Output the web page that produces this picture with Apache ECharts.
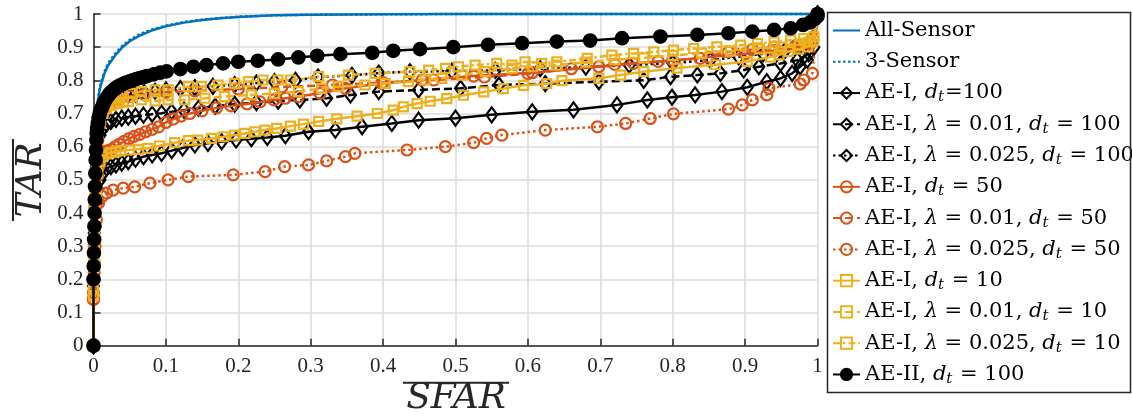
<!DOCTYPE html>
<html><head><meta charset="utf-8">
<script src="https://cdn.jsdelivr.net/npm/echarts@6/dist/echarts.min.js"></script>
<style>html,body{margin:0;padding:0;background:#fff}#c{width:1132px;height:417px}</style>
</head><body><div id="c"></div>
<script>
// ---------- data ----------
const tickLabels = ['0','0.1','0.2','0.3','0.4','0.5','0.6','0.7','0.8','0.9','1'];

const allSensorX = [0,0.001,0.002,0.004,0.006,0.008,0.01,0.015,0.02,0.03,0.04,0.05,0.065,0.08,0.1,0.125,0.15,0.175,0.2,0.25,0.3,0.4,0.5,1];
const allSensorY = [0,0.45,0.6,0.69,0.735,0.765,0.785,0.82,0.845,0.875,0.9,0.918,0.936,0.95,0.963,0.974,0.982,0.987,0.991,0.996,0.998,0.999,1,1];
const sensor3X = allSensorX;
const sensor3Y = [0,0.45,0.6,0.69,0.74,0.77,0.79,0.826,0.851,0.881,0.905,0.922,0.94,0.953,0.965,0.976,0.983,0.988,0.992,0.996,0.998,0.999,1,1];

const ae100X = [0,0,0.001,0.002,0.004,0.006,0.009,0.013,0.018,0.024,0.031,0.039,0.048,0.058,0.069,0.081,0.094,0.108,0.123,0.14,0.158,0.177,0.197,0.218,0.24,0.265,0.297,0.334,0.371,0.412,0.449,0.5,0.55,0.606,0.663,0.723,0.765,0.799,0.831,0.868,0.903,0.93,0.949,0.965,0.976,0.986,0.995,1];
const ae100Y = [0,0.18,0.28,0.36,0.43,0.47,0.5,0.52,0.535,0.54,0.545,0.55,0.555,0.562,0.57,0.575,0.58,0.588,0.596,0.605,0.61,0.615,0.62,0.624,0.628,0.633,0.645,0.65,0.66,0.67,0.68,0.686,0.696,0.705,0.711,0.726,0.741,0.749,0.756,0.766,0.779,0.796,0.806,0.821,0.841,0.861,0.9,1];

const ae100L1X = [0,0,0.001,0.002,0.004,0.006,0.009,0.013,0.018,0.024,0.031,0.039,0.048,0.058,0.069,0.081,0.094,0.108,0.125,0.145,0.168,0.195,0.225,0.255,0.285,0.322,0.355,0.394,0.449,0.507,0.56,0.624,0.698,0.76,0.797,0.834,0.866,0.898,0.919,0.949,0.972,0.988,1];
const ae100L1Y = [0,0.2,0.32,0.44,0.54,0.6,0.635,0.655,0.668,0.676,0.682,0.686,0.689,0.692,0.695,0.698,0.701,0.705,0.71,0.716,0.722,0.728,0.733,0.737,0.741,0.746,0.756,0.766,0.771,0.776,0.786,0.79,0.796,0.8,0.811,0.816,0.821,0.831,0.841,0.851,0.861,0.88,1];

const ae100L2X = [0,0,0.001,0.002,0.004,0.006,0.009,0.013,0.018,0.024,0.031,0.039,0.048,0.058,0.07,0.085,0.1,0.12,0.14,0.165,0.195,0.225,0.25,0.279,0.31,0.357,0.394,0.437,0.495,0.555,0.617,0.68,0.74,0.8,0.852,0.891,0.925,0.955,0.975,0.99,1];
const ae100L2Y = [0,0.2,0.34,0.48,0.6,0.66,0.7,0.72,0.732,0.74,0.746,0.751,0.755,0.759,0.763,0.767,0.771,0.775,0.778,0.782,0.787,0.792,0.796,0.8,0.81,0.815,0.822,0.826,0.828,0.83,0.835,0.84,0.846,0.852,0.861,0.871,0.88,0.89,0.9,0.92,1];

const ae50X = [0,0,0.001,0.002,0.003,0.005,0.007,0.01,0.013,0.016,0.02,0.025,0.03,0.036,0.042,0.049,0.056,0.064,0.072,0.081,0.09,0.1,0.11,0.121,0.133,0.15,0.17,0.19,0.212,0.23,0.249,0.265,0.283,0.313,0.348,0.398,0.454,0.525,0.606,0.698,0.746,0.8,0.85,0.9,0.94,0.97,0.99,1];
const ae50Y = [0,0.14,0.25,0.36,0.45,0.51,0.54,0.565,0.58,0.585,0.588,0.592,0.6,0.608,0.616,0.624,0.631,0.637,0.645,0.652,0.66,0.673,0.683,0.692,0.7,0.708,0.717,0.723,0.729,0.735,0.741,0.746,0.751,0.761,0.776,0.791,0.801,0.813,0.823,0.841,0.851,0.86,0.87,0.88,0.89,0.9,0.91,1];

const ae50L1X = [0,0,0.001,0.002,0.004,0.006,0.009,0.013,0.018,0.025,0.035,0.05,0.07,0.1,0.14,0.2,0.26,0.33,0.4,0.47,0.54,0.6,0.66,0.72,0.78,0.838,0.877,0.91,0.94,0.97,0.99,1];
const ae50L1Y = [0,0.16,0.3,0.42,0.55,0.62,0.67,0.7,0.72,0.733,0.743,0.752,0.758,0.764,0.768,0.774,0.78,0.786,0.793,0.801,0.81,0.82,0.835,0.848,0.857,0.866,0.886,0.893,0.9,0.905,0.91,1];

const ae50L2X = [0,0,0.001,0.002,0.004,0.007,0.012,0.018,0.027,0.041,0.057,0.078,0.103,0.131,0.193,0.237,0.264,0.297,0.322,0.348,0.361,0.433,0.486,0.525,0.543,0.564,0.624,0.696,0.735,0.769,0.801,0.877,0.896,0.91,0.93,0.933,0.976,0.981,0.993,1];
const ae50L2Y = [0,0.14,0.22,0.3,0.38,0.43,0.45,0.46,0.469,0.475,0.479,0.49,0.5,0.51,0.515,0.525,0.54,0.545,0.557,0.57,0.58,0.59,0.6,0.612,0.625,0.635,0.65,0.66,0.67,0.685,0.699,0.713,0.726,0.741,0.756,0.776,0.789,0.801,0.821,1];

const ae10X = [0,0,0.001,0.002,0.004,0.006,0.009,0.013,0.018,0.024,0.031,0.038,0.05,0.062,0.075,0.091,0.112,0.131,0.144,0.163,0.179,0.195,0.209,0.223,0.237,0.253,0.272,0.29,0.311,0.336,0.364,0.392,0.414,0.428,0.447,0.465,0.488,0.511,0.539,0.566,0.594,0.626,0.647,0.698,0.728,0.76,0.806,0.859,0.903,0.935,0.947,0.96,0.974,0.986,0.995,1];
const ae10Y = [0,0.15,0.25,0.35,0.45,0.52,0.555,0.57,0.578,0.582,0.585,0.588,0.59,0.592,0.595,0.602,0.612,0.618,0.62,0.625,0.63,0.635,0.64,0.645,0.65,0.655,0.662,0.668,0.676,0.684,0.692,0.7,0.71,0.72,0.73,0.737,0.745,0.755,0.765,0.775,0.785,0.79,0.799,0.806,0.816,0.826,0.837,0.847,0.857,0.87,0.877,0.887,0.894,0.901,0.92,1];

const ae10L1X = [0,0,0.001,0.002,0.004,0.006,0.009,0.013,0.018,0.025,0.033,0.041,0.048,0.066,0.085,0.103,0.126,0.154,0.181,0.218,0.25,0.283,0.315,0.338,0.375,0.403,0.435,0.458,0.481,0.509,0.541,0.578,0.606,0.64,0.68,0.72,0.76,0.8,0.84,0.88,0.92,0.95,0.975,0.99,1];
const ae10L1Y = [0,0.17,0.3,0.42,0.55,0.62,0.67,0.7,0.715,0.724,0.73,0.734,0.736,0.741,0.738,0.741,0.741,0.746,0.751,0.756,0.761,0.766,0.776,0.781,0.786,0.791,0.796,0.801,0.806,0.816,0.826,0.836,0.841,0.846,0.855,0.862,0.868,0.875,0.882,0.888,0.895,0.9,0.905,0.915,1];

const ae10L2X = [0,0,0.001,0.002,0.004,0.006,0.009,0.013,0.018,0.024,0.031,0.038,0.052,0.066,0.085,0.103,0.131,0.149,0.172,0.195,0.214,0.234,0.255,0.272,0.311,0.352,0.389,0.437,0.463,0.486,0.504,0.527,0.557,0.578,0.596,0.619,0.64,0.682,0.716,0.746,0.774,0.801,0.829,0.861,0.894,0.917,0.94,0.963,0.981,0.995,1];
const ae10L2Y = [0,0.18,0.32,0.45,0.58,0.65,0.7,0.725,0.738,0.745,0.75,0.756,0.761,0.766,0.771,0.771,0.781,0.781,0.786,0.791,0.796,0.801,0.801,0.801,0.811,0.816,0.821,0.826,0.831,0.836,0.841,0.846,0.851,0.846,0.856,0.851,0.856,0.866,0.876,0.881,0.886,0.891,0.896,0.901,0.906,0.911,0.916,0.921,0.926,0.931,1];

const aeIIX = [0,0,0.0003,0.0006,0.0009,0.0012,0.0015,0.0018,0.0021,0.0025,0.003,0.0035,0.004,0.0045,0.005,0.006,0.007,0.008,0.009,0.0105,0.012,0.0135,0.015,0.017,0.019,0.021,0.023,0.0255,0.028,0.0305,0.033,0.036,0.039,0.0425,0.046,0.05,0.054,0.059,0.064,0.069,0.074,0.083,0.092,0.101,0.12,0.138,0.156,0.179,0.2,0.227,0.255,0.283,0.309,0.341,0.385,0.414,0.451,0.497,0.545,0.592,0.64,0.686,0.73,0.783,0.834,0.877,0.91,0.94,0.963,0.98,0.99,0.996,1,1];
const aeIIY = [0,0.2,0.24,0.28,0.32,0.36,0.4,0.44,0.48,0.52,0.56,0.59,0.62,0.64,0.655,0.67,0.685,0.695,0.705,0.713,0.72,0.728,0.735,0.743,0.75,0.756,0.762,0.767,0.772,0.776,0.78,0.784,0.787,0.791,0.794,0.797,0.8,0.804,0.807,0.81,0.813,0.818,0.823,0.827,0.834,0.841,0.846,0.851,0.856,0.859,0.863,0.869,0.874,0.879,0.883,0.889,0.894,0.9,0.907,0.912,0.917,0.92,0.927,0.932,0.937,0.942,0.947,0.952,0.957,0.967,0.975,0.985,0.993,1];

const seriesNames = ['All-Sensor','3-Sensor','AE-I d100','AE-I l001 d100','AE-I l0025 d100','AE-I d50','AE-I l001 d50','AE-I l0025 d50','AE-I d10','AE-I l001 d10','AE-I l0025 d10','AE-II d100'];
const legendLabels = [
  '{n|All-Sensor}',
  '{n|3-Sensor}',
  '{n|AE-I, }{i|d}{s|t}{n|=100}',
  '{n|AE-I, }{i|λ}{n| = 0.01, }{i|d}{s|t}{n| = 100}',
  '{n|AE-I, }{i|λ}{n| = 0.025, }{i|d}{s|t}{n| = 100}',
  '{n|AE-I, }{i|d}{s|t}{n| = 50}',
  '{n|AE-I, }{i|λ}{n| = 0.01, }{i|d}{s|t}{n| = 50}',
  '{n|AE-I, }{i|λ}{n| = 0.025, }{i|d}{s|t}{n| = 50}',
  '{n|AE-I, }{i|d}{s|t}{n| = 10}',
  '{n|AE-I, }{i|λ}{n| = 0.01, }{i|d}{s|t}{n| = 10}',
  '{n|AE-I, }{i|λ}{n| = 0.025, }{i|d}{s|t}{n| = 10}',
  '{n|AE-II, }{i|d}{s|t}{n| = 100}'
];

// ---------- styling ----------
const BLUE = '#0072BD', ORANGE = '#D95319', YELLOW = '#EDB120', BLACK = '#000000';
const FONT = '"Liberation Serif", "Times New Roman", serif';
const LFONT = '"DejaVu Serif", serif';
const HOLLOW = 'rgba(0,0,0,0)';

function mk(i, xs, ys, color, dash, symbol, size, fill) {
  return {
    name: seriesNames[i], type: 'line', clip: false, animation: false,
    data: xs.map((x, k) => [x, ys[k]]),
    lineStyle: { color: color, width: 2.5, type: dash },
    symbol: symbol, symbolSize: size, showSymbol: symbol !== 'none',
    itemStyle: { color: fill, borderColor: color, borderWidth: 2.2 },
    emphasis: { disabled: true }, z: 2 + i * 0.01
  };
}

const series = [
  mk(0, allSensorX, allSensorY, BLUE, 'solid', 'none', 0, BLUE),
  mk(1, sensor3X, sensor3Y, BLUE, [2.5, 2.5], 'none', 0, BLUE),
  mk(2, ae100X, ae100Y, BLACK, 'solid', 'diamond', [11, 15], HOLLOW),
  mk(3, ae100L1X, ae100L1Y, BLACK, [8, 4], 'diamond', [11, 15], HOLLOW),
  mk(4, ae100L2X, ae100L2Y, BLACK, [2.5, 3], 'diamond', [11, 15], HOLLOW),
  mk(5, ae50X, ae50Y, ORANGE, 'solid', 'circle', 11, HOLLOW),
  mk(6, ae50L1X, ae50L1Y, ORANGE, [8, 4], 'circle', 11, HOLLOW),
  mk(7, ae50L2X, ae50L2Y, ORANGE, [2.5, 3], 'circle', 11, HOLLOW),
  mk(8, ae10X, ae10Y, YELLOW, 'solid', 'rect', 9, HOLLOW),
  mk(9, ae10L1X, ae10L1Y, YELLOW, [8, 4], 'rect', 9, HOLLOW),
  mk(10, ae10L2X, ae10L2Y, YELLOW, [7, 3, 2.5, 3], 'rect', 9, HOLLOW),
  mk(11, aeIIX, aeIIY, BLACK, 'solid', 'circle', 12.5, BLACK)
];

function axisCommon() {
  return {
    type: 'value', min: 0, max: 1, interval: 0.1,
    axisLine: { show: true, lineStyle: { color: '#262626', width: 1.5 } },
    axisTick: { show: true, inside: true, length: 7, lineStyle: { color: '#262626', width: 1.5 } },
    axisLabel: { fontFamily: FONT, fontSize: 21, color: '#262626', margin: 10,
      formatter: v => tickLabels[Math.round(v * 10)] },
    splitLine: { show: true, lineStyle: { color: '#dcdcdc', width: 1.6 } }
  };
}

const chart = echarts.init(document.getElementById('c'), null, { renderer: 'canvas' });
chart.setOption({
  animation: false,
  backgroundColor: '#fff',
  grid: { left: 93.5, right: 314.5, top: 14, bottom: 71.3, containLabel: false },
  xAxis: axisCommon(),
  yAxis: axisCommon(),
  legend: {
    orient: 'vertical', left: 832, top: 15, padding: 0,
    itemWidth: 27, itemHeight: 14, itemGap: 0.27,
    data: seriesNames.map((n, i) => i < 2 ? { name: n, itemStyle: { opacity: 0 } } : n),
    formatter: name => legendLabels[seriesNames.indexOf(name)],
    textStyle: {
      color: '#000', fontFamily: LFONT, fontSize: 21, lineHeight: 31,
      rich: {
        n: { fontFamily: LFONT, fontSize: 21, lineHeight: 31, color: '#000' },
        i: { fontFamily: LFONT, fontSize: 21, fontStyle: 'italic', lineHeight: 31, color: '#000' },
        s: { fontFamily: LFONT, fontSize: 15, fontStyle: 'italic', lineHeight: 31, color: '#000', padding: [9, 1, 0, 0] }
      }
    },
    selectedMode: false
  },
  graphic: [
    { type: 'rect', shape: { x: 827.5, y: 12.5, width: 303, height: 380 },
      style: { fill: 'none', stroke: '#262626', lineWidth: 1.5 }, z: 10 },
    { type: 'text', x: 456, y: 399, style: { text: 'SFAR', font: 'italic 36px ' + LFONT, fill: '#262626', align: 'center', verticalAlign: 'middle' }, z: 10 },
    { type: 'line', shape: { x1: 403, y1: 382.7, x2: 509, y2: 382.7 }, style: { stroke: '#262626', lineWidth: 2 }, z: 10 },
    { type: 'text', x: 32, y: 180, rotation: Math.PI / 2, style: { text: 'TAR', font: 'italic 36px ' + LFONT, fill: '#262626', align: 'center', verticalAlign: 'middle' }, z: 10 },
    { type: 'line', shape: { x1: 13, y1: 139, x2: 13, y2: 221 }, style: { stroke: '#262626', lineWidth: 2 }, z: 10 }
  ],
  series: series
});
</script>
</body></html>
